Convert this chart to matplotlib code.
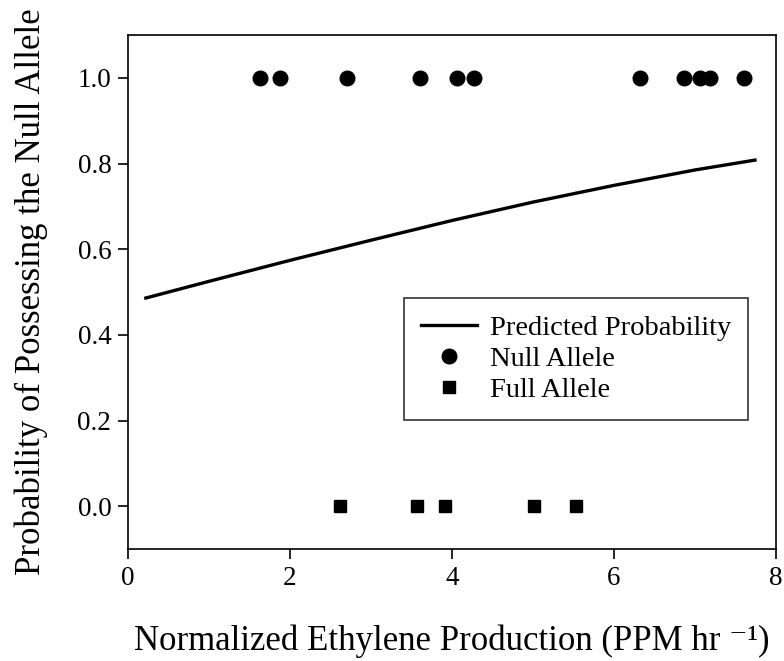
import matplotlib
matplotlib.use("Agg")
import matplotlib.pyplot as plt

# Data
null_x = [1.63, 1.88, 2.70, 3.60, 4.06, 4.27, 6.32, 6.86, 7.19, 7.06, 7.60]
null_y = [1.0] * len(null_x)
full_x = [2.62, 3.57, 3.91, 5.01, 5.53]
full_y = [0.0] * len(full_x)
curve_x = [0.22, 1.0, 2.0, 3.0, 4.0, 5.0, 6.0, 7.0, 7.74]
curve_y = [0.486, 0.525, 0.574, 0.621, 0.667, 0.710, 0.749, 0.785, 0.808]
x_ticks = [0, 2, 4, 6, 8]
y_ticks = [0.0, 0.2, 0.4, 0.6, 0.8, 1.0]

plt.rcParams['font.family'] = ['Liberation Serif', 'DejaVu Serif']

fig = plt.figure(figsize=(7.84, 6.61), dpi=100)
ax = fig.add_axes([0.1633, 0.1694, 0.8265, 0.7776])

ax.plot(curve_x, curve_y, color='black', lw=2.4, label='Predicted Probability')
ax.plot(null_x, null_y, 'o', color='black', ms=10.5, label='Null Allele', ls='none')
ax.plot(full_x, full_y, 's', color='black', ms=9, label='Full Allele', ls='none')

ax.set_xlim(0, 8)
ax.set_ylim(-0.1, 1.1)
ax.set_xticks(x_ticks)
ax.set_yticks(y_ticks)
ax.set_xticklabels([str(t) for t in x_ticks])
ax.set_yticklabels([f"{t:.1f}" for t in y_ticks])
ax.tick_params(direction='out', length=7, width=1.2, labelsize=19.5, colors='black', pad=5)
for s in ax.spines.values():
    s.set_linewidth(1.2)
    s.set_color('black')

ax.set_xlabel('Normalized Ethylene Production (PPM hr \u207b\u00b9)', fontsize=25, labelpad=24)
ax.set_ylabel('Probability of Possessing the Null Allele', fontsize=25)
ax.yaxis.set_label_coords(-0.124, 0.5)

leg = ax.legend(loc='lower right', bbox_to_anchor=(0.957, 0.251), fontsize=20.5,
                frameon=True, fancybox=False, edgecolor='black', handlelength=1.95,
                borderpad=0.6, labelspacing=0.18, handletextpad=0.45, borderaxespad=0)
leg.get_frame().set_linewidth(1.2)

fig.savefig('out.png', dpi=100)
